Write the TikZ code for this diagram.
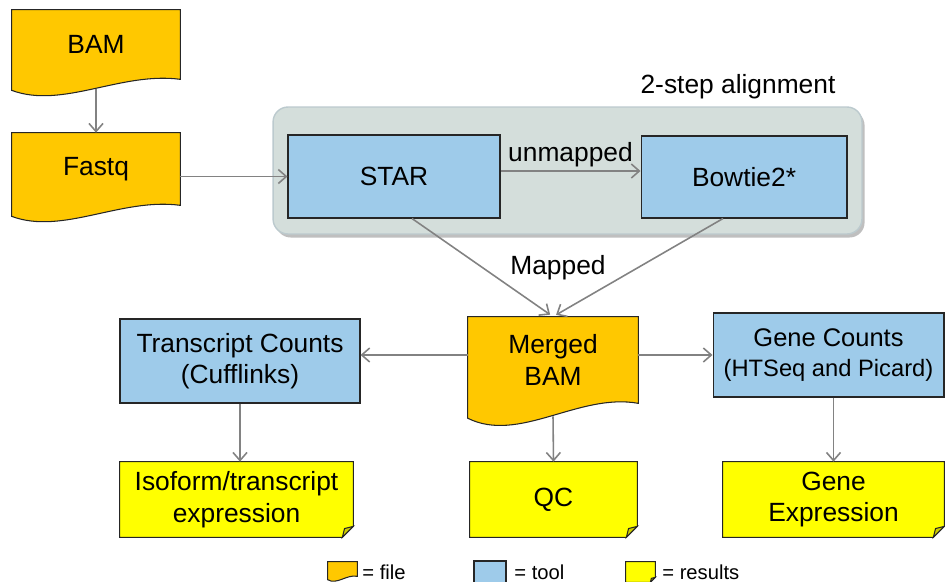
\documentclass[tikz,border=0pt]{standalone}
\usepackage{fontspec}
\setmainfont{Liberation Sans}
\usetikzlibrary{arrows.meta,calc,backgrounds,shadows}

\definecolor{fileorange}{RGB}{255,200,0}
\definecolor{toolblue}{RGB}{158,203,234}
\definecolor{resyellow}{RGB}{255,255,0}
\definecolor{foldyellow}{RGB}{204,204,0}
\definecolor{groupgray}{RGB}{212,222,219}
\definecolor{groupedge}{RGB}{188,202,206}
\definecolor{arrgray}{RGB}{130,130,130}

% wavy bottom of a file node, #2 scales the wave
\newcommand{\filepath}[2]{(#1.north west) -- (#1.north east) -- (#1.south east)
  .. controls ($(#1.south east)!0.35!(#1.south west)+(0,-8*#2)$) and ($(#1.south east)!0.7!(#1.south west)+(0,30*#2)$) .. ($(#1.south west)+(0,11*#2)$) -- cycle}
% results node with a folded corner of size #2
\newcommand{\notepath}[2]{(#1.north west) -- (#1.north east) -- ($(#1.south east)+(0,-#2)$) -- ($(#1.south east)+(-#2,0)$) -- (#1.south west) -- cycle}
\newcommand{\foldpath}[2]{($(#1.south east)+(0,-#2)$) -- ($(#1.south east)+(-#2,0)$) -- ($(#1.south east)+(-0.8*#2,-0.8*#2)$) -- cycle}

\begin{document}
\begin{tikzpicture}[
  x=0.02cm, y=-0.02cm,
  font=\fontsize{15}{18}\selectfont,
  file/.style={inner sep=0pt, align=center},
  tool/.style={draw=black!85, fill=toolblue, line width=0.6pt, inner sep=0pt, align=center},
  result/.style={inner sep=0pt, align=center},
  filebg/.style={draw=black!85, fill=fileorange, line width=0.6pt},
  resbg/.style={draw=black!85, fill=resyellow, line width=0.6pt},
  group/.style={draw=groupedge, fill=groupgray, line width=0.8pt, rounded corners=0.3cm,
    drop shadow={shadow xshift=1.5pt, shadow yshift=-2pt, fill=black, opacity=0.25}},
  arr/.style={-{Straight Barb[length=1.6mm, width=2.8mm]}, draw=arrgray, line width=0.9pt},
  lbl/.style={inner sep=0pt},
  key/.style={font=\fontsize{11.5}{14}\selectfont, anchor=base west, inner sep=0pt}
]
\useasboundingbox (0,0) rectangle (945,581);

% alignment group
\node[group, minimum width=11.78cm, minimum height=2.54cm] (align) at (567.5,170.5) {};
\node[lbl] (alignlbl) at (738,87) {2-step alignment};

\node[file, minimum width=3.36cm, minimum height=1.38cm] (bam) at (96,44.5) {BAM};
\node[file, minimum width=3.36cm, minimum height=1.44cm] (fastq) at (96,169) {Fastq};
\node[tool, minimum width=4.24cm, minimum height=1.66cm] (star) at (394,176.5) {STAR};
\node[tool, minimum width=4.12cm, minimum height=1.64cm] (bowtie) at (744,177) {Bowtie2*};
\node[file, minimum width=3.4cm, minimum height=1.72cm] (merged) at (553,360) {Merged\\BAM};
\node[tool, minimum width=4.8cm, minimum height=1.68cm] (tx) at (240,361) {Transcript Counts\\(Cufflinks)};
\node[tool, minimum width=4.62cm, minimum height=1.68cm, font=\fontsize{14.5}{17}\selectfont] (genecnt) at (828.5,355)
  {Gene Counts\\{\fontsize{13.5}{16}\selectfont (HTSeq and Picard)}};
\node[result, minimum width=4.66cm, minimum height=1.5cm] (iso) at (236.5,499.5) {Isoform/transcript\\expression};
\node[result, minimum width=3.34cm, minimum height=1.5cm] (qc) at (553.5,499.5) {QC};
\node[result, minimum width=4.42cm, minimum height=1.5cm] (geneexp) at (833.5,499.5) {Gene\\Expression};

% legend
\node[file, minimum width=0.58cm, minimum height=0.28cm] (keyfile) at (342.5,569) {};
\node[key] (keyfiletxt) at (362,579) {= file};
\node[tool, minimum width=0.64cm, minimum height=0.46cm] (keytool) at (490,572.5) {};
\node[key] (keytooltxt) at (514,579) {= tool};
\node[result, minimum width=0.58cm, minimum height=0.4cm] (keyres) at (640.5,572) {};
\node[key] (keyrestxt) at (662,579) {= results};

\begin{scope}[on background layer]
  \foreach \n/\s in {bam/1, fastq/1, merged/1.35, keyfile/0.3}
    \draw[filebg] \filepath{\n}{\s};
  \foreach \n/\f in {iso/11, qc/11, geneexp/11, keyres/5}{
    \draw[resbg] \notepath{\n}{\f};
    \draw[resbg, fill=foldyellow] \foldpath{\n}{\f};
  }
\end{scope}

\draw[arr] ($(bam.south)+(0,10)$) -- (fastq.north);
\draw[arr] (fastq.east |- star.west) -- (star.west);
\draw[arr] ([yshift=0.11cm]star.east) -- ([yshift=0.11cm]star.east -| bowtie.west)
  node[midway, above, inner sep=2pt] {unmapped};
\draw[arr, shorten >=2pt] ([xshift=0.36cm]star.south) -- (merged.north);
\draw[arr, shorten >=2pt] ([xshift=-0.42cm]bowtie.south) -- (merged.north);
\node[lbl] (mappedlbl) at (558,268) {Mapped};
\draw[arr] (merged.east |- genecnt.west) -- (genecnt.west);
\draw[arr] (merged.west |- genecnt.west) -- (tx.east |- genecnt.west);
\draw[arr] (tx.south) -- (tx.south |- iso.north);
\draw[arr] ($(merged.south)+(0,13)$) -- (qc.north);
\draw[arr] (genecnt.south -| geneexp.north) -- (geneexp.north);
\end{tikzpicture}
\end{document}
